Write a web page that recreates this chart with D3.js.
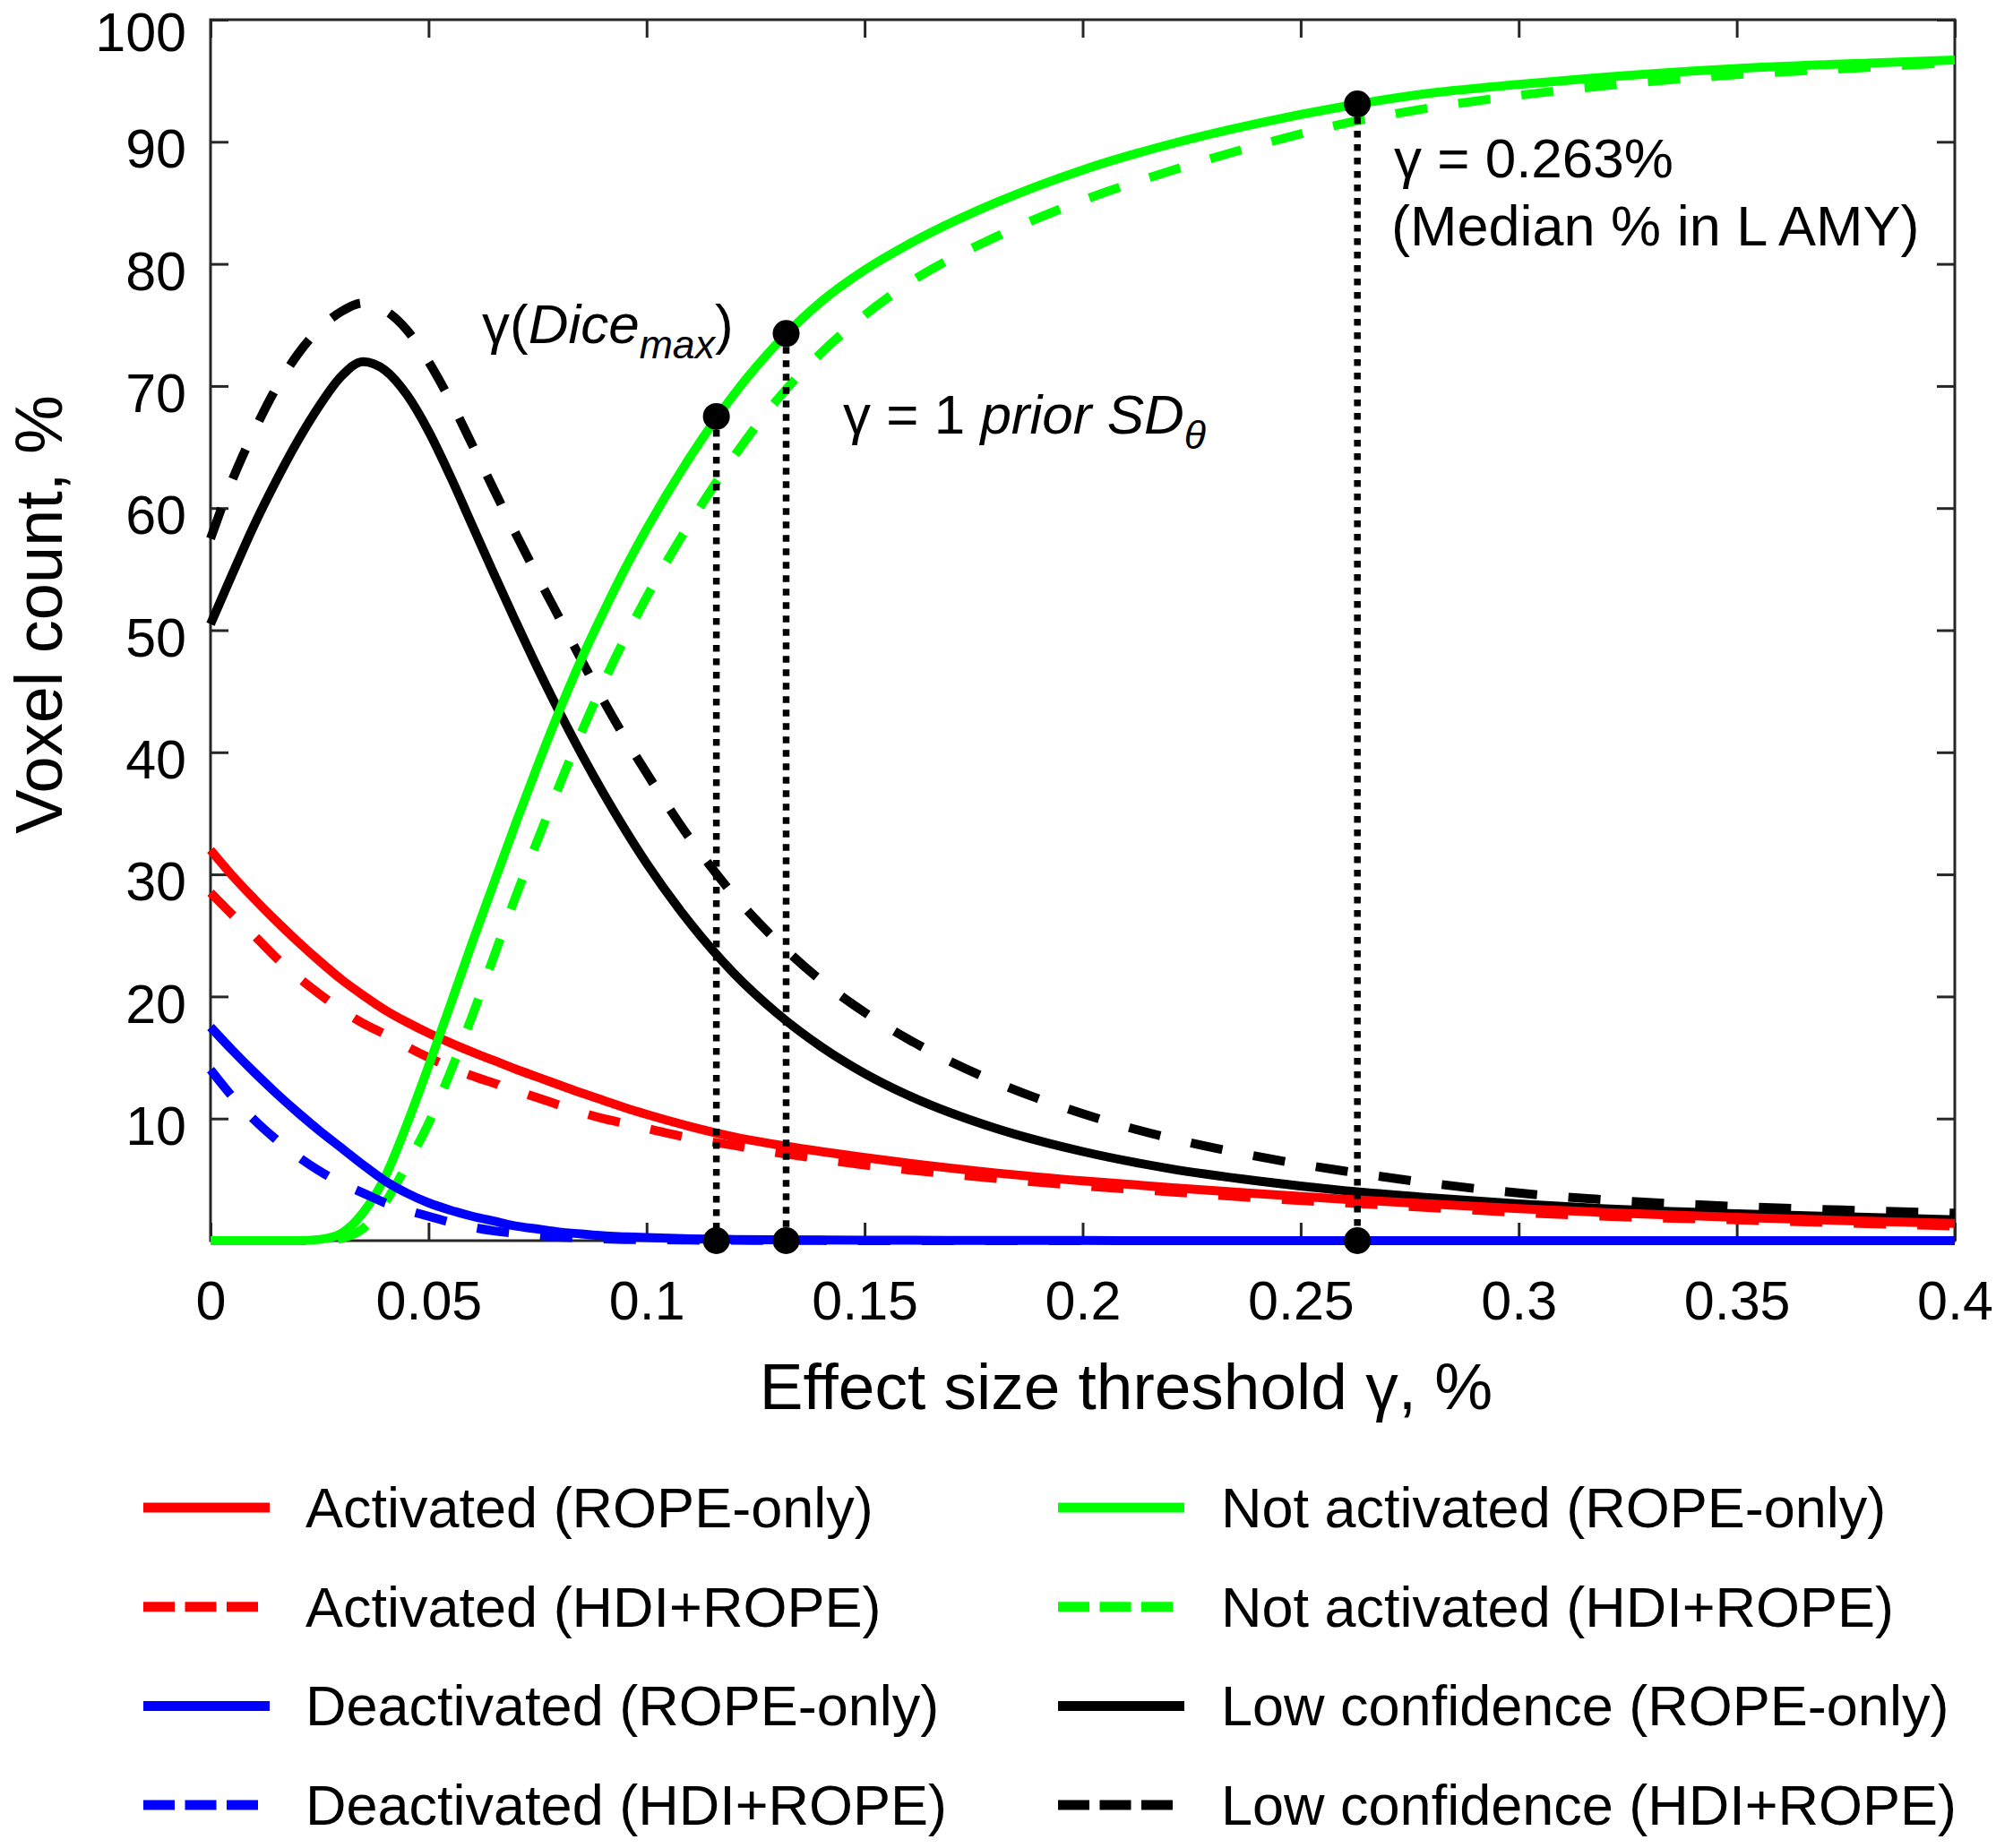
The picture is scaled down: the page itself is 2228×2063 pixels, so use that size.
<!DOCTYPE html>
<html><head><meta charset="utf-8">
<script src="https://cdn.jsdelivr.net/npm/d3@7"></script>
<style>
body{margin:0;background:#fff}
svg{display:block}
text{font-family:"Liberation Sans",Arial,Helvetica,sans-serif;fill:#000}
</style>
</head><body>
<svg id="chart" width="2228" height="2063"></svg>
<script>
// ---------------- data ----------------
const xs = [0, 0.005, 0.01, 0.015, 0.02, 0.025, 0.03, 0.035, 0.04, 0.045, 0.05, 0.055, 0.06, 0.065, 0.07, 0.075, 0.08, 0.085, 0.09, 0.095, 0.1, 0.11, 0.12, 0.13, 0.14, 0.15, 0.16, 0.18, 0.2, 0.22, 0.24, 0.26, 0.28, 0.3, 0.32, 0.35, 0.38, 0.4];

const activatedRope = [32.0, 29.9, 28.0, 26.2, 24.5, 22.9, 21.4, 20.1, 18.9, 17.9, 17.0, 16.2, 15.45, 14.75, 14.05, 13.4, 12.75, 12.1, 11.5, 10.9, 10.35, 9.35, 8.5, 7.85, 7.3, 6.8, 6.35, 5.55, 4.9, 4.35, 3.85, 3.4, 3.0, 2.62, 2.3, 1.9, 1.6, 1.42];
const activatedHdi  = [28.5, 26.7, 25.0, 23.2, 21.6, 20.2, 18.9, 17.8, 16.9, 15.9, 15.0, 14.2, 13.5, 12.9, 12.3, 11.7, 11.1, 10.5, 10.0, 9.6, 9.2, 8.4, 7.8, 7.2, 6.7, 6.2, 5.8, 5.1, 4.5, 4.0, 3.5, 3.1, 2.7, 2.3, 2.0, 1.7, 1.4, 1.2];
const deactivatedRope = [17.5, 15.6, 13.8, 12.1, 10.5, 9.0, 7.6, 6.2, 4.9, 3.9, 3.1, 2.5, 2.0, 1.6, 1.2, 0.95, 0.7, 0.55, 0.4, 0.32, 0.25, 0.15, 0.1, 0.07, 0.05, 0.04, 0.03, 0.02, 0.01, 0, 0, 0, 0, 0, 0, 0, 0, 0];
const deactivatedHdi  = [14.0, 11.8, 9.9, 8.3, 6.9, 5.7, 4.7, 3.9, 3.1, 2.5, 2.0, 1.5, 1.1, 0.8, 0.6, 0.45, 0.3, 0.22, 0.15, 0.1, 0.08, 0.05, 0.03, 0.02, 0.01, 0, 0, 0, 0, 0, 0, 0, 0, 0, 0, 0, 0, 0];
const notActivatedRope = [0, 0, 0, 0, 0, 0.1, 0.6, 2.3, 5.2, 9.5, 14.3, 19.3, 24.4, 29.3, 34.2, 38.9, 43.4, 47.6, 51.4, 55.0, 58.3, 64.2, 69.3, 73.5, 76.9, 79.5, 81.6, 85.0, 87.7, 89.8, 91.5, 92.9, 94.0, 94.7, 95.3, 96.0, 96.45, 96.7];
const notActivatedHdi  = [0, 0, 0, 0, 0, 0, 0.2, 1.0, 3.1, 6.2, 9.6, 13.8, 18.4, 23.3, 28.2, 32.8, 37.3, 41.6, 45.6, 49.3, 52.7, 58.8, 64.2, 68.9, 72.7, 75.8, 78.4, 82.2, 85.2, 87.6, 89.7, 91.5, 92.8, 93.8, 94.6, 95.5, 96.1, 96.5];
const lowConfRope = [50.5, 54.6, 58.6, 62.2, 65.5, 68.4, 70.8, 72.0, 71.3, 69.3, 66.3, 62.6, 58.6, 54.6, 50.7, 46.9, 43.3, 39.9, 36.7, 33.7, 30.9, 26.0, 21.9, 18.6, 15.9, 13.7, 11.9, 9.2, 7.3, 5.9, 4.9, 4.1, 3.5, 3.0, 2.6, 2.2, 1.9, 1.7];
const lowConfHdi  = [57.5, 62.3, 66.3, 69.8, 72.6, 74.7, 76.1, 76.8, 76.2, 74.6, 72.0, 68.8, 65.2, 61.5, 57.9, 54.4, 51.0, 47.6, 44.3, 41.2, 38.3, 32.9, 28.3, 24.5, 21.3, 18.7, 16.5, 13.0, 10.4, 8.4, 6.9, 5.7, 4.7, 3.9, 3.35, 2.8, 2.45, 2.25];

// marked thresholds
const markerX = [0.116, 0.132, 0.263];
const markerY = [67.5, 74.3, 93.1];

// ticks
const xTickValues = [0, 0.05, 0.1, 0.15, 0.2, 0.25, 0.3, 0.35, 0.4];
const xTickLabels = ["0", "0.05", "0.1", "0.15", "0.2", "0.25", "0.3", "0.35", "0.4"];
const yTickValues = [0, 10, 20, 30, 40, 50, 60, 70, 80, 90, 100];
const yTickLabels = ["", "10", "20", "30", "40", "50", "60", "70", "80", "90", "100"];

// legend labels (column-major order)
const legendLabels = [
  "Activated (ROPE-only)", "Activated (HDI+ROPE)", "Deactivated (ROPE-only)", "Deactivated (HDI+ROPE)",
  "Not activated (ROPE-only)", "Not activated (HDI+ROPE)", "Low confidence (ROPE-only)", "Low confidence (HDI+ROPE)"
];

// ---------------- styling / series mapping ----------------
const RED = "#ff0000", BLUE = "#0000ff", GREEN = "#00ff00", BLACK = "#000000";
const series = [
  {values: activatedRope,    color: RED,   dashed: false, label: legendLabels[0]},
  {values: activatedHdi,     color: RED,   dashed: true,  label: legendLabels[1]},
  {values: deactivatedRope,  color: BLUE,  dashed: false, label: legendLabels[2]},
  {values: deactivatedHdi,   color: BLUE,  dashed: true,  label: legendLabels[3]},
  {values: notActivatedRope, color: GREEN, dashed: false, label: legendLabels[4]},
  {values: notActivatedHdi,  color: GREEN, dashed: true,  label: legendLabels[5]},
  {values: lowConfRope,      color: BLACK, dashed: false, label: legendLabels[6]},
  {values: lowConfHdi,       color: BLACK, dashed: true,  label: legendLabels[7]}
];
// draw order: black, red, green, blue
const drawOrder = [6, 7, 0, 1, 4, 5, 2, 3];

const W = 2228, H = 2063;
const P = {left: 235, right: 2182, top: 22, bottom: 1385};
const x = d3.scaleLinear().domain([0, 0.4]).range([P.left, P.right]);
const y = d3.scaleLinear().domain([0, 100]).range([P.bottom, P.top]);

const svg = d3.select("#chart");
svg.append("rect").attr("width", W).attr("height", H).attr("fill", "#fff");

const axisColor = "#262626";
const TICK = 20, FS = 61;

function styleAxis(g) {
  g.select(".domain").remove();
  g.selectAll(".tick line").attr("stroke", axisColor).attr("stroke-width", 3);
  g.selectAll(".tick text").attr("font-size", FS).attr("fill", "#000")
    .attr("font-family", '"Liberation Sans", Arial, sans-serif');
}

// bottom
svg.append("g").attr("transform", `translate(0,${P.bottom})`)
  .call(d3.axisBottom(x).tickValues(xTickValues).tickSize(-TICK).tickPadding(45)
    .tickFormat((d, i) => xTickLabels[i]))
  .call(styleAxis);
// top
svg.append("g").attr("transform", `translate(0,${P.top})`)
  .call(d3.axisTop(x).tickValues(xTickValues).tickSize(-TICK).tickFormat(""))
  .call(styleAxis);
// left
const gl = svg.append("g").attr("transform", `translate(${P.left},0)`)
  .call(d3.axisLeft(y).tickValues(yTickValues).tickSize(-TICK).tickPadding(27)
    .tickFormat((d, i) => yTickLabels[i]))
  .call(styleAxis);
gl.selectAll(".tick text").attr("dy", d => d === 100 ? "0.56em" : "0.47em");
// right
svg.append("g").attr("transform", `translate(${P.right},0)`)
  .call(d3.axisRight(y).tickValues(yTickValues).tickSize(-TICK).tickFormat(""))
  .call(styleAxis);
// box
svg.append("rect").attr("x", P.left).attr("y", P.top)
  .attr("width", P.right - P.left).attr("height", P.bottom - P.top)
  .attr("fill", "none").attr("stroke", axisColor).attr("stroke-width", 3);

// ---------------- lines ----------------
const line = d3.line().x((d, i) => x(xs[i])).y(d => y(d)).curve(d3.curveMonotoneX);
const gLines = svg.append("g");
drawOrder.forEach(k => {
  const s = series[k];
  gLines.append("path").datum(s.values)
    .attr("d", line)
    .attr("fill", "none")
    .attr("stroke", s.color)
    .attr("stroke-width", 10)
    .attr("stroke-linejoin", "round")
    .attr("stroke-dasharray", s.dashed ? "36,35" : null);
});

// ---------------- threshold markers ----------------
const gM = svg.append("g");
markerX.forEach((mx, i) => {
  gM.append("line")
    .attr("x1", x(mx)).attr("x2", x(mx))
    .attr("y1", y(markerY[i])).attr("y2", y(0))
    .attr("stroke", "#000").attr("stroke-width", 7.5).attr("stroke-dasharray", "7.5,7.5");
});
markerX.forEach((mx, i) => {
  gM.append("circle").attr("cx", x(mx)).attr("cy", y(markerY[i])).attr("r", 15).attr("fill", "#000");
  gM.append("circle").attr("cx", x(mx)).attr("cy", y(0)).attr("r", 15).attr("fill", "#000");
});

// ---------------- annotations ----------------
const AFS = 62;
const t1 = svg.append("text").attr("x", 538).attr("y", 383).attr("font-size", AFS);
t1.append("tspan").text("γ(");
t1.append("tspan").attr("font-style", "italic").text("Dice");
t1.append("tspan").attr("font-style", "italic").attr("font-size", AFS * 0.72).attr("dy", 17).text("max");
t1.append("tspan").attr("dy", -17).text(")");

const t2 = svg.append("text").attr("x", 941).attr("y", 484).attr("font-size", AFS);
t2.append("tspan").text("γ = 1 ");
t2.append("tspan").attr("font-style", "italic").text("prior SD");
t2.append("tspan").attr("font-style", "italic").attr("font-size", AFS * 0.72).attr("dy", 17).text("θ");

svg.append("text").attr("x", 1556).attr("y", 198).attr("font-size", AFS).text("γ = 0.263%");
svg.append("text").attr("x", 1553).attr("y", 274).attr("font-size", 63).text("(Median % in L AMY)");

// ---------------- axis titles ----------------
svg.append("text").attr("x", 1257).attr("y", 1573).attr("font-size", 73)
  .attr("text-anchor", "middle").text("Effect size threshold γ, %");
svg.append("text").attr("transform", "translate(69,686) rotate(-90)").attr("font-size", 74)
  .attr("text-anchor", "middle").text("Voxel count, %");

// ---------------- legend ----------------
const legCols = [{lx: 160, tx: 341}, {lx: 1181, tx: 1363}];
const legRow0 = 1683, legStep = 110.7, LFS = 63;
series.forEach((s, k) => {
  const col = legCols[Math.floor(k / 4)];
  const cy = legRow0 + (k % 4) * legStep;
  svg.append("line")
    .attr("x1", col.lx).attr("x2", col.lx + (s.dashed ? 128 : 141))
    .attr("y1", cy).attr("y2", cy)
    .attr("stroke", s.color).attr("stroke-width", 11)
    .attr("stroke-dasharray", s.dashed ? "35,11.5" : null);
  svg.append("text").attr("x", col.tx).attr("y", cy + 22).attr("font-size", LFS).text(s.label);
});
</script>
</body></html>
